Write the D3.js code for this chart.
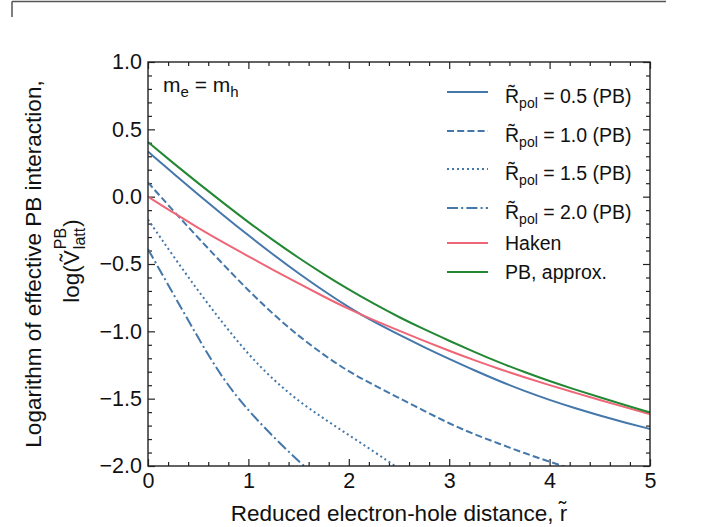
<!DOCTYPE html>
<html>
<head>
<meta charset="utf-8">
<script src="https://cdn.jsdelivr.net/npm/d3@7"></script>
<style>
  body { margin: 0; background: #fff; }
  svg { display: block; font-family: "Liberation Sans", Arial, sans-serif; }
</style>
</head>
<body>
<div id="chart"></div>
<script>
// reduced electron-hole distance grid
var rGrid = [0, 0.25, 0.5, 0.75, 1.0, 1.25, 1.5, 1.75, 2.0, 2.25, 2.5,
             2.75, 3.0, 3.25, 3.5, 3.75, 4.0, 4.25, 4.5, 4.75, 5.0];

// log of effective interaction
var pb05 = [0.335, 0.174, 0.016, -0.138, -0.288, -0.432, -0.57, -0.70, -0.822, -0.931, -1.025,
            -1.118, -1.205, -1.29, -1.37, -1.443, -1.51, -1.57, -1.625, -1.677, -1.725];
var pb10 = [0.105, -0.103, -0.306, -0.504, -0.697, -0.875, -1.035, -1.175, -1.30, -1.40, -1.495,
            -1.59, -1.685, -1.765, -1.835, -1.905, -1.968, -2.03];
var pb15 = [-0.17, -0.44, -0.70, -0.945, -1.172, -1.362, -1.518, -1.648, -1.77, -1.893, -2.02];
var pb20 = [-0.39, -0.72, -1.05, -1.36, -1.59, -1.785, -1.965, -2.13];
var haken = [0.0, -0.118, -0.232, -0.34, -0.443, -0.545, -0.645, -0.742, -0.835, -0.918, -0.995,
             -1.072, -1.145, -1.215, -1.28, -1.342, -1.40, -1.455, -1.51, -1.563, -1.615];
var pbApprox = [0.405, 0.25, 0.10, -0.047, -0.19, -0.326, -0.455, -0.576, -0.69, -0.796, -0.895,
                -0.985, -1.07, -1.153, -1.232, -1.303, -1.37, -1.432, -1.49, -1.547, -1.602];

var seriesNames = ["= 0.5 (PB)", "= 1.0 (PB)", "= 1.5 (PB)", "= 2.0 (PB)", "Haken", "PB, approx."];
var xTicks = [0, 1, 2, 3, 4, 5];
var yTicks = [1.0, 0.5, 0.0, -0.5, -1.0, -1.5, -2.0];

var blue = "#4477AA", red = "#EE6677", green = "#228833";
var lw = 2;
var series = [
  { name: seriesNames[0], values: pb05, color: blue, dash: null, tilde: true },
  { name: seriesNames[1], values: pb10, color: blue, dash: "7,3.2", tilde: true },
  { name: seriesNames[2], values: pb15, color: blue, dash: "2,3", tilde: true },
  { name: seriesNames[3], values: pb20, color: blue, dash: "11,3.2,2,3.2", tilde: true },
  { name: seriesNames[4], values: haken, color: red, dash: null, tilde: false },
  { name: seriesNames[5], values: pbApprox, color: green, dash: null, tilde: false }
];

var W = 704, H = 527;
var margin = { top: 62, right: 54, bottom: 61, left: 148 },
    width = W - margin.left - margin.right,
    height = H - margin.top - margin.bottom;

var svg = d3.select("#chart").append("svg")
    .attr("width", W)
    .attr("height", H);

// stray frame corner at the top of the page
svg.append("path")
    .attr("d", "M12,1.5H666M12,1.5V17")
    .attr("fill", "none")
    .attr("stroke", "#555")
    .attr("stroke-width", 1.5);

var g = svg.append("g")
    .attr("transform", "translate(" + margin.left + "," + margin.top + ")");

var x = d3.scaleLinear().domain([0, 5]).range([0, width]);
var y = d3.scaleLinear().domain([-2, 1]).range([height, 0]);

g.append("clipPath").attr("id", "clip")
  .append("rect").attr("width", width).attr("height", height);

// minor ticks
var xMinor = d3.range(0, 5.001, 0.2).filter(function (d) { return Math.abs(d - Math.round(d)) > 1e-6; });
var yMinor = d3.range(-2, 1.001, 0.1).filter(function (d) { return Math.abs(d * 2 - Math.round(d * 2)) > 1e-6; });

function styleAxis(sel) {
  sel.select(".domain").remove();
  sel.selectAll(".tick line").attr("stroke", "#222").attr("stroke-width", 1.2);
  sel.selectAll(".tick text").attr("fill", "#111").style("font-size", "21.5px")
     .style("font-family", "'Liberation Sans', Arial, sans-serif");
}

g.append("g").attr("transform", "translate(0," + height + ")")
  .call(d3.axisBottom(x).tickValues(xTicks).tickFormat(d3.format("d")).tickSize(-7).tickPadding(7))
  .call(styleAxis);
g.append("g").attr("transform", "translate(0," + height + ")")
  .call(d3.axisBottom(x).tickValues(xMinor).tickFormat("").tickSize(-4))
  .call(styleAxis);
g.append("g")
  .call(d3.axisTop(x).tickValues(xTicks).tickFormat("").tickSize(-7))
  .call(styleAxis);
g.append("g")
  .call(d3.axisTop(x).tickValues(xMinor).tickFormat("").tickSize(-4))
  .call(styleAxis);

g.append("g")
  .call(d3.axisLeft(y).tickValues(yTicks).tickFormat(d3.format(".1f")).tickSize(-7).tickPadding(6))
  .call(styleAxis);
g.append("g")
  .call(d3.axisLeft(y).tickValues(yMinor).tickFormat("").tickSize(-4))
  .call(styleAxis);
g.append("g").attr("transform", "translate(" + width + ",0)")
  .call(d3.axisRight(y).tickValues(yTicks).tickFormat("").tickSize(-7))
  .call(styleAxis);
g.append("g").attr("transform", "translate(" + width + ",0)")
  .call(d3.axisRight(y).tickValues(yMinor).tickFormat("").tickSize(-4))
  .call(styleAxis);

// curves
var line = d3.line()
    .x(function (d) { return x(d[0]); })
    .y(function (d) { return y(d[1]); })
    .curve(d3.curveBasis);

var plot = g.append("g").attr("clip-path", "url(#clip)");
series.forEach(function (s) {
  var pts = s.values.map(function (v, i) { return [rGrid[i], v]; });
  plot.append("path")
    .datum(pts)
    .attr("d", line)
    .attr("fill", "none")
    .attr("stroke", s.color)
    .attr("stroke-width", lw)
    .attr("stroke-dasharray", s.dash);
});

// frame
g.append("rect")
  .attr("width", width).attr("height", height)
  .attr("fill", "none").attr("stroke", "#222").attr("stroke-width", 1.4);

// annotation
var ann = g.append("text").attr("x", 15).attr("y", 30)
  .style("font-size", "21px").attr("fill", "#111");
ann.append("tspan").text("m");
ann.append("tspan").attr("dy", 5).style("font-size", "15px").text("e");
ann.append("tspan").attr("dy", -5).text(" = m");
ann.append("tspan").attr("dy", 5).style("font-size", "15px").text("h");

// legend
var legendY = [92, 131, 169, 208, 243, 272];
var legend = svg.append("g");
series.forEach(function (s, i) {
  var ly = legendY[i];
  legend.append("line")
    .attr("x1", 447).attr("x2", 488).attr("y1", ly).attr("y2", ly)
    .attr("stroke", s.color).attr("stroke-width", lw)
    .attr("stroke-dasharray", s.dash);
  var t = legend.append("text").attr("x", 505)
    .attr("y", ly + (s.tilde ? 10.5 : 6.5))
    .style("font-size", "19.5px").attr("fill", "#111");
  if (s.tilde) {
    t.append("tspan").text("R\u0303");
    t.append("tspan").attr("dy", 5).style("font-size", "14px").text("pol");
    t.append("tspan").attr("dy", -5).text(" " + s.name);
  } else {
    t.text(s.name);
  }
});

// x axis label
svg.append("text")
  .attr("x", margin.left + width / 2).attr("y", 521)
  .attr("text-anchor", "middle")
  .style("font-size", "22.5px").attr("fill", "#111")
  .text("Reduced electron-hole distance, r\u0303");

// y axis label, two lines
svg.append("text")
  .attr("transform", "translate(41," + (margin.top + height / 2) + ") rotate(-90)")
  .attr("text-anchor", "middle")
  .style("font-size", "22.5px").attr("fill", "#111")
  .text("Logarithm of effective PB interaction,");

var yl = svg.append("g")
  .attr("transform", "translate(79," + (margin.top + height / 2 - 3) + ") rotate(-90)");
var inner = yl.append("g");
var p1 = inner.append("text").style("font-size", "22.5px").attr("fill", "#111").text("log(V\u0303");
var w1 = p1.node().getComputedTextLength();
var sup = inner.append("text").attr("x", w1 + 1).attr("y", -13)
  .style("font-size", "16px").attr("fill", "#111").text("PB");
var sub = inner.append("text").attr("x", w1 + 1).attr("y", 6)
  .style("font-size", "16px").attr("fill", "#111").text("latt");
var ws = Math.max(sup.node().getComputedTextLength(), sub.node().getComputedTextLength());
var p2 = inner.append("text").attr("x", w1 + ws + 2).style("font-size", "22.5px")
  .attr("fill", "#111").text(")");
var total = w1 + ws + 2 + p2.node().getComputedTextLength();
inner.attr("transform", "translate(" + (-total / 2) + ",0)");
</script>
</body>
</html>
